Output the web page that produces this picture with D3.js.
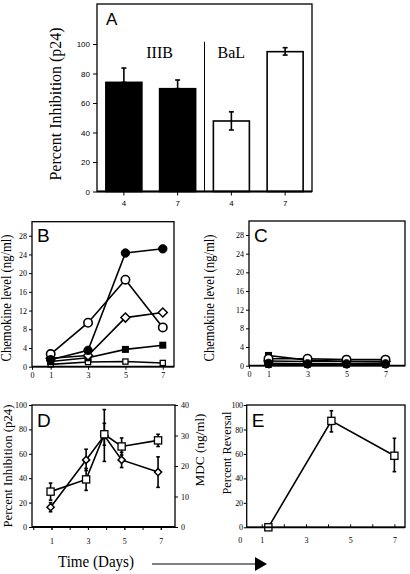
<!DOCTYPE html>
<html><head><meta charset="utf-8">
<script src="https://cdn.jsdelivr.net/npm/d3@7/dist/d3.min.js"></script>
<style>
html,body{margin:0;padding:0;background:#fff;}
svg{display:block;}
</style></head>
<body><svg id="c" width="410" height="574"></svg>
<script>
// ---------- DATA ----------
// Panel A
const aCategories = ["IIIB-4","IIIB-7","BaL-4","BaL-7"];
const aTickLabels = ["4","7","4","7"];
const aValues = [74, 69.7, 47.8, 94.8];
const aErrLow = [74, 69.7, 41.7, 92.5];
const aErrHigh = [83.7, 75.6, 54, 97.5];
const aFilled = [true, true, false, false];
const aYTicks = [0,20,40,60,80,100];
// Panel B / C
const days = [1,3,5,7];
const bFilledCircle = [1.5, 3.5, 24.3, 25.2];
const bOpenCircle = [2.7, 9.4, 18.6, 8.4];
const bDiamond = [1.8, 2.4, 10.5, 11.6];
const bFilledSquare = [1.1, 1.9, 3.7, 4.6];
const bOpenSquare = [0.5, 1.0, 1.1, 0.8];
const cFilledCircle = [0.5, 0.4, 0.4, 0.4];
const cOpenCircle = [1.5, 1.5, 1.3, 1.3];
const cDiamond = [1.0, 0.9, 0.9, 0.9];
const cFilledSquare = [2.2, 1.2, 0.9, 0.8];
const cOpenSquare = [0.2, 0.2, 0.2, 0.2];
const chemYTicks = [0,4,8,12,16,20,24,28];
const chemXTicks = [0,1,3,5,7];
// Panel D
const dDays = [0.95, 2.9, 3.9, 4.85, 6.85];
const dInhibition = [29, 39, 76, 66, 71];
const dInhibitionErr = [7, 9, 9, 7, 5];
const dMDC = [6.5, 22, 30, 22, 18];
const dMDCErr = [1.5, 3.5, 8.5, 2.5, 5];
const dYTicks = [0,20,40,60,80,100];
const dY2Ticks = [0,10,20,30,40];
const dXTicks = [1,3,5,7];
// Panel E
const eDays = [1.3, 4.15, 7.0];
const eReversal = [0, 87, 58.5];
const eErrLow = [0, 78, 45.5];
const eErrHigh = [0, 95.3, 72.8];
const eYTicks = [0,20,40,60,80,100];
const eXTicks = [0,1,3,5,7];

// ---------- HELPERS ----------
const svg = d3.select("#c");
const SERIF = "'Liberation Serif','Times New Roman',serif";
const SANS = "'Liberation Sans',Arial,sans-serif";

function frame(x0,y0,x1,y1,bottomW){
  const g = svg.append("g");
  g.append("rect").attr("x",x0).attr("y",y0).attr("width",x1-x0).attr("height",y1-y0)
    .attr("fill","none").attr("stroke","#000").attr("stroke-width",1.3);
  g.append("line").attr("x1",x0).attr("x2",x1).attr("y1",y1).attr("y2",y1)
    .attr("stroke","#000").attr("stroke-width",bottomW||1.8);
}
function styleAxis(g, font, size){
  g.select(".domain").remove();
  g.selectAll(".tick line").attr("stroke","#000").attr("stroke-width",1);
  g.selectAll(".tick text").attr("font-family",font).attr("font-size",size).attr("fill","#000");
}
function diamondPath(r){ return `M0,${-r}L${r},0L0,${r}L${-r},0Z`; }
function marker(g, type, x, y, s){
  if(type==="fc") g.append("circle").attr("cx",x).attr("cy",y).attr("r",s).attr("fill","#000").attr("stroke","#000");
  if(type==="oc") g.append("circle").attr("cx",x).attr("cy",y).attr("r",s).attr("fill","#fff").attr("stroke","#000").attr("stroke-width",1.6);
  if(type==="di") g.append("path").attr("d",diamondPath(s)).attr("transform",`translate(${x},${y})`).attr("fill","#fff").attr("stroke","#000").attr("stroke-width",1.5);
  if(type==="fs") g.append("rect").attr("x",x-s).attr("y",y-s).attr("width",2*s).attr("height",2*s).attr("fill","#000");
  if(type==="os") g.append("rect").attr("x",x-s).attr("y",y-s).attr("width",2*s).attr("height",2*s).attr("fill","#fff").attr("stroke","#000").attr("stroke-width",1.3);
}
function series(g, xs, ys, x, y, type, s){
  const line = d3.line().x((d,i)=>x(xs[i])).y(d=>y(d));
  g.append("path").datum(ys).attr("d",line).attr("fill","none").attr("stroke","#000").attr("stroke-width",1.6);
  return ()=>ys.forEach((v,i)=>marker(g,type,x(xs[i]),y(v),s));
}
function errbar(g, x, ylo, yhi, cap){
  g.append("line").attr("x1",x).attr("x2",x).attr("y1",ylo).attr("y2",yhi).attr("stroke","#000").attr("stroke-width",1.6);
  g.append("line").attr("x1",x-cap).attr("x2",x+cap).attr("y1",yhi).attr("y2",yhi).attr("stroke","#000").attr("stroke-width",1.6);
  if(ylo!==yhi) g.append("line").attr("x1",x-cap).attr("x2",x+cap).attr("y1",ylo).attr("y2",ylo).attr("stroke","#000").attr("stroke-width",1.6);
}
function vtitle(text, cx, cy, size, len, rot){
  svg.append("text").attr("transform",`translate(${cx},${cy}) rotate(${rot||-90})`)
    .attr("text-anchor","middle").attr("dominant-baseline","middle")
    .attr("font-family",SERIF).attr("font-size",size)
    .attr("textLength",len).attr("lengthAdjust","spacingAndGlyphs").text(text);
}
function panelLabel(t,x,y,size){
  svg.append("text").attr("x",x).attr("y",y).attr("font-family",SANS).attr("font-size",size).text(t);
}

// ---------- PANEL A ----------
{
  const L=97,R=312,T=4,B=191.5;
  const x = d3.scaleBand().domain(aCategories).range([L,R]).paddingInner(0.33).paddingOuter(0.165);
  const y = d3.scaleLinear().domain([0,100]).range([B,44]);
  const g = svg.append("g");
  aCategories.forEach((c,i)=>{
    g.append("rect").attr("x",x(c)).attr("y",y(aValues[i])).attr("width",x.bandwidth()).attr("height",B-y(aValues[i]))
      .attr("fill",aFilled[i]?"#000":"#fff").attr("stroke","#000").attr("stroke-width",1.6);
    const cx = x(c)+x.bandwidth()/2;
    if(aFilled[i]) errbar(g,cx,y(aValues[i]),y(aErrHigh[i]),2.5);
    else errbar(g,cx,y(aErrLow[i]),y(aErrHigh[i]),2.5);
  });
  frame(L,T,R,B,2);
  const divX = x(aCategories[2]) - x.step()*x.paddingInner()/2;
  g.append("line").attr("x1",divX).attr("x2",divX).attr("y1",y(101.5)).attr("y2",B).attr("stroke","#000").attr("stroke-width",1);
  const ya = svg.append("g").attr("transform",`translate(${L},0)`).call(d3.axisLeft(y).tickValues(aYTicks).tickSize(4).tickPadding(3));
  styleAxis(ya,SANS,8);
  const xa = svg.append("g").attr("transform",`translate(0,${B})`).call(d3.axisBottom(x).tickFormat((d,i)=>aTickLabels[i]).tickSize(4).tickPadding(5));
  styleAxis(xa,SANS,8);
  svg.append("text").attr("x",x(aCategories[0])+x.step()).attr("y",58).attr("text-anchor","middle")
    .attr("font-family",SERIF).attr("font-size",16).text("IIIB");
  svg.append("text").attr("x",x(aCategories[2])+x.bandwidth()/2).attr("y",58).attr("text-anchor","middle")
    .attr("font-family",SERIF).attr("font-size",16).text("BaL");
  panelLabel("A",106,25,17);
  vtitle("Percent Inhibition (p24)",57,104,16,153);
}

// ---------- PANELS B & C ----------
function chemPanel(L,R,T,B,xmax,data,label,titleX){
  const x = d3.scaleLinear().domain([0,xmax]).range([L,R]);
  const y = d3.scaleLinear().domain([0,31]).range([B,T]);
  const g = svg.append("g");
  frame(L,T,R,B,1.8);
  const ya = svg.append("g").attr("transform",`translate(${L},0)`).call(d3.axisLeft(y).tickValues(chemYTicks).tickSize(3).tickPadding(2));
  styleAxis(ya,SERIF,8);
  const xa = svg.append("g").attr("transform",`translate(0,${B})`).call(d3.axisBottom(x).tickValues(chemXTicks).tickSize(3).tickPadding(3));
  styleAxis(xa,SERIF,8);
  const draws = [];
  draws.push(series(g,days,data.os,x,y,"os",2.6));
  draws.push(series(g,days,data.fs,x,y,"fs",3.5));
  draws.push(series(g,days,data.di,x,y,"di",4.5));
  draws.push(series(g,days,data.oc,x,y,"oc",4.2));
  draws.push(series(g,days,data.fc,x,y,"fc",4.2));
  draws.forEach(f=>f());
  panelLabel(label,L+5,242,19);
  vtitle("Chemokine level (ng/ml)",titleX,298,14,127);
}
chemPanel(32,174,221.7,366.7,7.6,{fc:bFilledCircle,oc:bOpenCircle,di:bDiamond,fs:bFilledSquare,os:bOpenSquare},"B",8);
chemPanel(249,405,221,365.7,8.0,{fc:cFilledCircle,oc:cOpenCircle,di:cDiamond,fs:cFilledSquare,os:cOpenSquare},"C",211);

// ---------- PANEL D ----------
{
  const L=32,R=175,T=405,B=527;
  const x = d3.scaleLinear().domain([-0.07,7.78]).range([L,R]);
  const y = d3.scaleLinear().domain([0,100]).range([B,T]);
  const y2 = d3.scaleLinear().domain([0,40]).range([B,T]);
  const g = svg.append("g");
  frame(L,T,R,B,1.8);
  const ya = svg.append("g").attr("transform",`translate(${L},0)`).call(d3.axisLeft(y).tickValues(dYTicks).tickSize(3).tickPadding(2));
  styleAxis(ya,SERIF,8);
  const yb = svg.append("g").attr("transform",`translate(${R},0)`).call(d3.axisRight(y2).tickValues(dY2Ticks).tickSize(3).tickPadding(3));
  styleAxis(yb,SERIF,8);
  const xa = svg.append("g").attr("transform",`translate(0,${B})`).call(d3.axisBottom(x).tickValues(dXTicks).tickSize(3).tickPadding(8));
  styleAxis(xa,SERIF,8);
  const xm = svg.append("g").attr("transform",`translate(0,${B})`).call(d3.axisBottom(x).tickValues(d3.range(0,8)).tickSize(3).tickFormat(""));
  styleAxis(xm,SERIF,8);
  dDays.forEach((d,i)=>{
    errbar(g,x(d),y(dInhibition[i]-dInhibitionErr[i]),y(dInhibition[i]+dInhibitionErr[i]),1.8);
    errbar(g,x(d),y2(dMDC[i]-dMDCErr[i]),y2(dMDC[i]+dMDCErr[i]),1.8);
  });
  const f1 = series(g,dDays,dMDC,x,y2,"di",3.6);
  const f2 = series(g,dDays,dInhibition,x,y,"os",3.6);
  f1(); f2();
  panelLabel("D",L+5,427,19);
  vtitle("Percent Inhibition (p24)",9,466,13,123);
  vtitle("MDC (ng/ml)",201.5,450,13,73);
}

// ---------- PANEL E ----------
{
  const L=246.7,R=405,T=405,B=527.3;
  const x = d3.scaleLinear().domain([0.32,7.48]).range([L,R]);
  const y = d3.scaleLinear().domain([0,100]).range([B,T]);
  const g = svg.append("g");
  frame(L,T,R,B,1.8);
  const ya = svg.append("g").attr("transform",`translate(${L},0)`).call(d3.axisLeft(y).tickValues(eYTicks).tickSize(3).tickPadding(1));
  styleAxis(ya,SERIF,8);
  ya.selectAll(".tick text").attr("letter-spacing","-0.3");
  const xa = svg.append("g").attr("transform",`translate(0,${B})`).call(d3.axisBottom(x).tickValues(eXTicks).tickSize(0).tickPadding(10));
  styleAxis(xa,SERIF,8);
  const xm = svg.append("g").attr("transform",`translate(0,${B})`).call(d3.axisTop(x).tickValues(d3.range(1,8)).tickSize(3).tickFormat(""));
  styleAxis(xm,SERIF,8);
  eDays.forEach((d,i)=>{ if(eErrHigh[i]>eErrLow[i]) errbar(g,x(d),y(eErrLow[i]),y(eErrHigh[i]),1.8); });
  const f = series(g,eDays,eReversal,x,y,"os",3.6); f();
  panelLabel("E",L+5,427,19);
  vtitle("Percent Reversal",228,453,13,83);
}

// ---------- TIME ARROW ----------
svg.append("text").attr("x",96).attr("y",567).attr("text-anchor","middle")
  .attr("font-family",SERIF).attr("font-size",16).attr("textLength",76).attr("lengthAdjust","spacingAndGlyphs").text("Time (Days)");
svg.append("line").attr("x1",152).attr("x2",257).attr("y1",564).attr("y2",564).attr("stroke","#000").attr("stroke-width",1);
svg.append("path").attr("d","M255,557L267,564L255,571Z").attr("fill","#000");
</script></body></html>
